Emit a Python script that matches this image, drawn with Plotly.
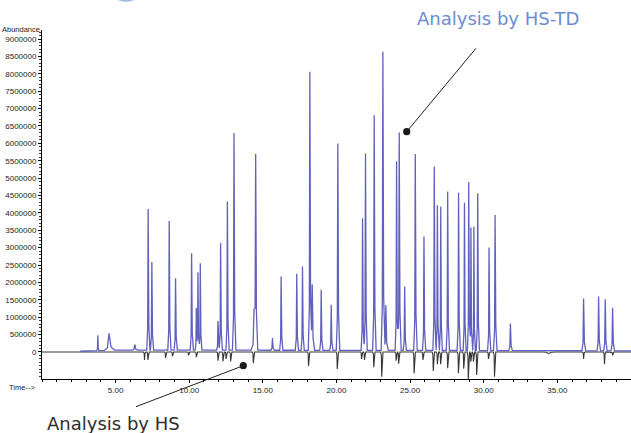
import numpy as np
import plotly.graph_objects as go

# ---------------- data ----------------
# HS-TD analysis (blue, positive peaks): retention time (min), abundance, base width (min)
td_times = [3.79, 4.55, 6.30, 7.21, 7.46, 8.64, 9.07, 10.16, 10.48, 10.59, 10.75,
            11.95, 12.13, 12.59, 13.04, 14.40, 14.51, 15.65, 16.24, 17.30, 17.69,
            18.19, 18.35, 18.96, 19.64, 20.09, 21.77, 21.97, 22.56, 23.15, 23.35,
            24.08, 24.26, 24.63, 25.35, 25.94, 26.64, 26.85, 27.08, 27.55, 28.29,
            28.69, 28.98, 29.13, 29.33, 29.59, 30.36, 30.77, 31.81, 36.78, 37.80,
            38.25, 38.75]
td_heights = [440000, 490000, 160000, 4060000, 2530000, 3710000, 2070000, 2790000,
              1210000, 2240000, 2500000, 840000, 3080000, 4280000, 6250000, 1100000,
              5470000, 350000, 2120000, 2200000, 2410000, 8010000, 1900000, 1740000,
              1310000, 5950000, 3800000, 5660000, 6760000, 8590000, 1300000, 5440000,
              6270000, 1840000, 5650000, 3280000, 5290000, 4180000, 4130000, 4570000,
              4540000, 4250000, 4850000, 3540000, 3560000, 4520000, 2960000, 3900000,
              780000, 1500000, 1560000, 1480000, 1240000]
td_widths = [0.15, 0.70, 0.35, 0.22, 0.22, 0.22, 0.22, 0.22, 0.18, 0.18, 0.20,
             0.20, 0.22, 0.22, 0.24, 0.45, 0.26, 0.25, 0.22, 0.22, 0.22,
             0.24, 0.30, 0.22, 0.22, 0.24, 0.22, 0.22, 0.24, 0.26, 0.30,
             0.22, 0.24, 0.22, 0.24, 0.22, 0.22, 0.20, 0.20, 0.22, 0.22,
             0.20, 0.20, 0.18, 0.18, 0.22, 0.22, 0.24, 0.24, 0.26, 0.24,
             0.24, 0.24]
td_base_t = [2.6, 5.0, 32.0, 40.0]
td_base_v = [20000, 55000, 40000, 30000]

# HS analysis (dark grey, plotted inverted)
hs_times = [6.96, 7.19, 8.39, 8.86, 9.95, 10.48, 11.95, 12.29, 12.50, 12.81, 14.35,
            18.10, 20.05, 21.70, 21.90, 22.53, 23.07, 24.05, 24.22, 25.27, 25.87,
            26.57, 26.85, 27.07, 27.55, 28.28, 28.64, 28.95, 29.12, 29.30, 29.52,
            30.32, 30.73, 34.40, 36.78, 38.20, 38.75]
hs_depths = [230000, 230000, 170000, 120000, 100000, 150000, 250000, 270000, 200000,
             270000, 320000, 400000, 490000, 200000, 230000, 440000, 710000, 250000,
             340000, 620000, 230000, 550000, 350000, 350000, 470000, 610000, 480000,
             780000, 280000, 280000, 660000, 200000, 710000, 50000, 200000, 350000,
             100000]
hs_widths = [0.16] * 33 + [0.9, 0.18, 0.18, 0.16]

y_tick_vals = list(range(0, 9000001, 500000))
y_tick_text = [str(v) for v in y_tick_vals]
x_tick_vals = [5, 10, 15, 20, 25, 30, 35]
x_tick_text = ["%.2f" % v for v in x_tick_vals]


# ---------------- build the traces from the peak tables ----------------
def peak_profile(t, h, w):
    xs = [t - 0.45 * w, t - 0.15 * w, t, t + 0.2 * w, t + 0.55 * w]
    ys = [0.0, 0.15 * h, h, 0.18 * h, 0.0]
    return xs, ys


def build(times, heights, widths, start, end, base_t, base_v, sign):
    profiles = [peak_profile(t, h, w) for t, h, w in zip(times, heights, widths)]
    grid = {start, end}
    for xs, _ in profiles:
        grid.update(xs)
    grid.update([b for b in base_t if start <= b <= end])
    grid = np.array(sorted(g for g in grid if start <= g <= end))
    y = np.interp(grid, base_t, base_v)
    for xs, ys in profiles:
        y = y + sign * np.interp(grid, xs, ys, left=0.0, right=0.0)
    return grid, y


td_x, td_y = build(td_times, td_heights, td_widths, 2.6, 40.0, td_base_t, td_base_v, 1)
hs_x, hs_y = build(hs_times, hs_depths, hs_widths, 0.0, 40.0, [0.0, 40.0], [0, 0], -1)

fig = go.Figure()
fig.add_trace(go.Scatter(x=hs_x, y=hs_y, mode="lines",
                         line=dict(color="rgb(55,55,55)", width=1.1), showlegend=False))
fig.add_trace(go.Scatter(x=td_x, y=td_y, mode="lines",
                         line=dict(color="rgb(96,96,190)", width=1.3), showlegend=False))

# ---------------- layout ----------------
L, R, T, B = 42, 0, 30, 54
W, H = 631, 433
PW, PH = W - L - R, H - T - B


def px(x):
    return (x - L) / PW


def py(y):
    return (H - B - y) / PH


tick_font = dict(family="Liberation Sans, Arial, sans-serif", size=8, color="rgb(35,35,35)")

fig.update_layout(
    width=W, height=H,
    margin=dict(l=L, r=R, t=T, b=B, pad=0),
    paper_bgcolor="white", plot_bgcolor="white",
    showlegend=False,
    xaxis=dict(range=[0, 40], showgrid=False, zeroline=False, showline=True,
               linecolor="black", linewidth=1, ticks="outside", ticklen=3,
               tickcolor="black", tickmode="array", tickvals=x_tick_vals,
               ticktext=x_tick_text, tickfont=tick_font,
               minor=dict(tickmode="linear", tick0=0, dtick=1, ticks="outside",
                          ticklen=2, tickcolor="black")),
    yaxis=dict(range=[-778000, 9260000], showgrid=False, zeroline=False, showline=True,
               linecolor="black", linewidth=1, ticks="outside", ticklen=3,
               tickcolor="black", tickmode="array", tickvals=y_tick_vals,
               ticktext=y_tick_text, tickfont=tick_font,
               minor=dict(tickmode="linear", tick0=0, dtick=100000, ticks="outside",
                          ticklen=2, tickcolor="rgb(60,60,60)")),
)

# axis captions
fig.add_annotation(x=px(42), y=py(29.5), xref="paper", yref="paper", text="Abundance",
                   showarrow=False, xanchor="right", yanchor="middle",
                   font=dict(family="Liberation Sans, Arial, sans-serif", size=7.5,
                             color="rgb(35,35,35)"))
fig.add_annotation(x=px(7), y=py(387.5), xref="paper", yref="paper", text="Time-->",
                   showarrow=False, xanchor="left", yanchor="middle",
                   font=dict(family="Liberation Sans, Arial, sans-serif", size=7.5,
                             color="rgb(35,35,35)"))

# callout labels
fig.add_annotation(x=px(415), y=py(18.5), xref="paper", yref="paper",
                   text="Analysis by HS-TD", showarrow=False, xanchor="left",
                   yanchor="middle",
                   font=dict(family="DejaVu Sans, Verdana, sans-serif", size=18,
                             color="rgb(108,140,210)"))
fig.add_annotation(x=px(45), y=py(423.5), xref="paper", yref="paper",
                   text="Analysis by HS", showarrow=False, xanchor="left",
                   yanchor="middle",
                   font=dict(family="DejaVu Sans, Verdana, sans-serif", size=18,
                             color="rgb(45,45,45)"))

# callout leader lines and dots
fig.add_shape(type="line", xref="paper", yref="paper",
              x0=px(476), y0=py(48.3), x1=px(406.7), y1=py(131.7),
              line=dict(color="rgb(30,30,30)", width=1))
fig.add_shape(type="line", xref="paper", yref="paper",
              x0=px(136), y0=py(406.7), x1=px(243.3), y1=py(365.7),
              line=dict(color="rgb(30,30,30)", width=1))
for cx, cy in [(406.7, 131.7), (243.3, 365.7)]:
    r = 3.6
    fig.add_shape(type="circle", xref="paper", yref="paper",
                  x0=px(cx - r), x1=px(cx + r), y0=py(cy + r), y1=py(cy - r),
                  fillcolor="rgb(25,25,25)", line=dict(color="rgb(25,25,25)", width=0))

# cropped light-blue logo fragment at the top edge
fig.add_shape(type="circle", xref="paper", yref="paper",
              x0=px(116), x1=px(136), y0=py(1.8), y1=py(-7),
              fillcolor="rgb(165,190,228)", line=dict(width=0))

fig.write_html("out.html")
